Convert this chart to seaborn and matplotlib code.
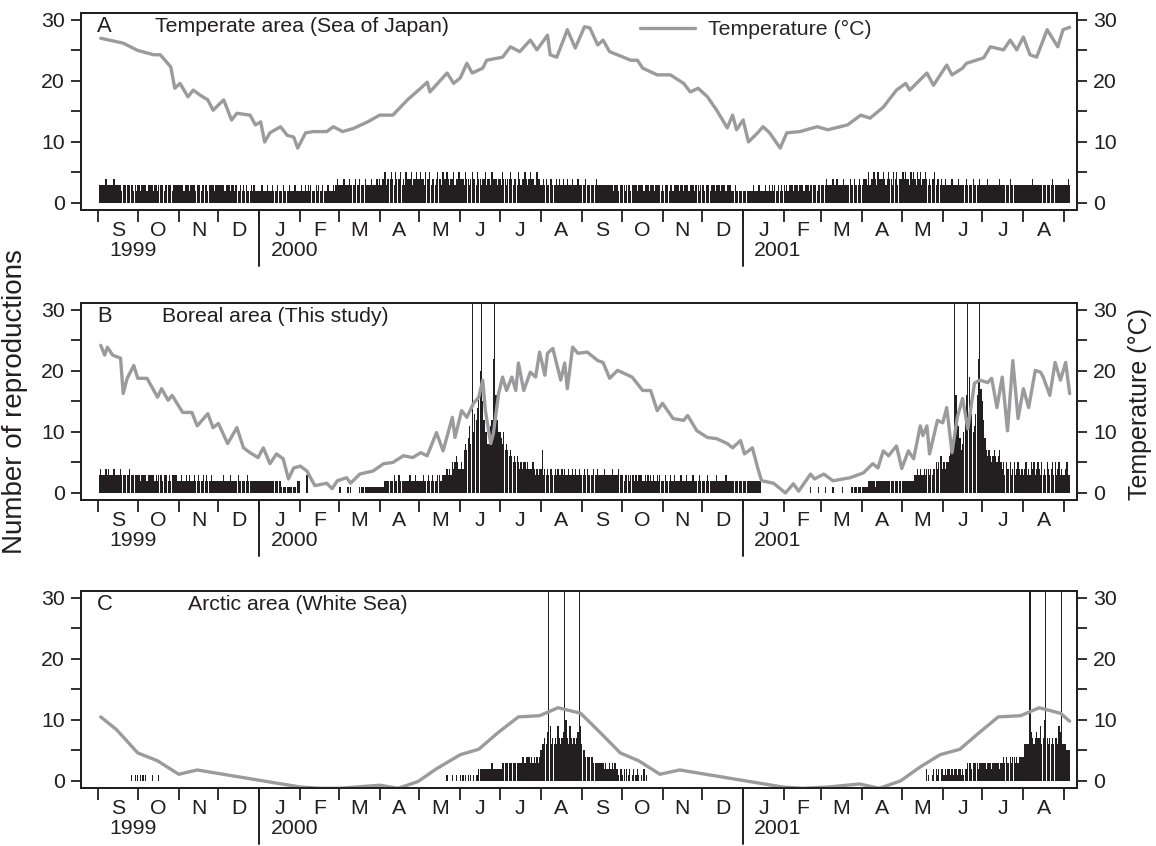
import matplotlib
matplotlib.use("Agg")
import matplotlib.pyplot as plt
import matplotlib.transforms as mtransforms
import seaborn as sns
import numpy as np
import pandas as pd

START = pd.Timestamp("1999-09-01")
month_starts = pd.date_range("1999-09-01", "2001-09-01", freq="MS")
month_letters = ["S", "O", "N", "D", "J", "F", "M", "A", "M", "J", "J", "A"] * 2
year_labels = ["1999", "2000", "2001"]
year_starts = ["1999-09-01", "2000-01-01", "2001-01-01"]

# daily number of reproductions, one string per month from Sep 1999 to Sep 2001
# (one base-36 character per day, "z" = off the scale)
repro_a = [
    "0333334333 3343333323 3333333232",
    "3323333233 3323323333 2333332333 3",
    "3333233323 3332333233 3323333233",
    "3333323332 3323322323 2322232322 2",
    "2232223222 3222322232 2223222322 2",
    "2322323232 2232322322 232223234",
    "3333433343 3334334333 4333343334 3",
    "4344534445 4354445343 5444534454",
    "4544354453 4434544354 4543445344 5",
    "4443544345 4435443445 3443544434",
    "4354434454 3443543445 4345443354 4",
    "3343433443 3343433433 4333433343 3",
    "3334333333 3433333333 3333233323",
    "3332333233 3323333233 3233323333 2",
    "3233323323 3332332333 2333233323",
    "3323332333 2333233323 3322232222 2",
    "2222222232 2232222322 3232322323 2",
    "3232333233 3233323332 33333233",
    "3333433334 3343333433 3343343334 3",
    "3444353445 4354445434 5443545344",
    "4545443545 4354534454 3434453443 4",
    "3343333433 3343333343 3334333343",
    "3333433333 3334333333 3433333333 3",
    "3333333433 3333333333 3343333333 3",
    "33343",
]
repro_b = [
    "0343334343 3343333433 3333433333",
    "3323333233 3332323332 3332323333 2",
    "2232223232 2232232223 2322232222",
    "2222322223 2222232222 2232222222 2",
    "2222222222 2222222111 1111101102 2",
    "0000030000 0000000000 000000000",
    "0100000101 0000001111 1111111111 1",
    "1111222222 2322332222 2223222322",
    "2223222322 3222332233 3434354565 4",
    "4547879b8z adcegkzfca a89bcmzgca",
    "a98a787676 5656545455 4544454343 4",
    "4734343443 3434334343 3433434334 3",
    "3343433334 3343333433 3334333343",
    "3323332333 2323332232 3232322323 2",
    "2232223223 2222322232 2223222232",
    "2222322222 2322222232 2222222222 2",
    "2222222222 2222000000 0000000000 0",
    "0000000000 0000000000 10000010",
    "0001000001 0000001000 0001111111 1",
    "1111122222 1222222222 2222222222",
    "0222222222 3343433434 4343445456 6",
    "454556778z gcb978adgz jfdabdgmzh",
    "fc97676567 6567545354 4534534543 4",
    "3453435453 4543534354 3453534534 3",
    "34533",
]
repro_c = [
    "0000000000 0000000000 0000010010",
    "1010101000 0100001000 0000000000 0",
    "0000000000 0000000000 0000000000",
    "0000000000 0000000000 0000000000 0",
    "0000000000 0000000000 0000000000 0",
    "0000000000 0000000000 000000000",
    "0000000000 0000000000 0000000000 0",
    "0000000000 0000000000 0000000000",
    "0000000000 0000000000 0100010010 0",
    "1010101010 1011222222 2222322222",
    "2233333333 3333333443 4443434343 4",
    "566768z967 67697678za 7697676 78z9",
    "6554444443 3333333232 2323232212",
    "2120212012 0121010201 0000000000 0",
    "0000000000 0000000000 0000000000",
    "0000000000 0000000000 0000000000 0",
    "0000000000 0000000000 0000000000 0",
    "0000000000 0000000000 00000000",
    "0000000000 0000000000 0000000000 0",
    "0000000000 0000000000 0000000000",
    "0000000000 0000000002 1001202120 2",
    "2121221212 2122121223 3323333233",
    "3332333233 3332334343 3434434344 4",
    "46666z8767 877967az76 7676776 98z6",
    "66555",
]

# water temperature (days after 1 Sep 1999, degrees C)
temp_a = [(2, 27.0), (19, 26.2), (30, 25.0), (42, 24.3), (47, 24.3), (55, 22.3),
          (58, 18.8), (62, 19.6), (68, 17.4), (72, 18.5), (77, 17.7), (83, 16.9),
          (87, 15.2), (95, 16.9), (101, 13.6), (105, 14.7), (115, 14.4), (119, 12.8),
          (123, 13.3), (126, 10.0), (130, 11.5), (138, 12.5), (143, 11.1), (148, 10.8),
          (151, 9.0), (157, 11.5), (163, 11.7), (173, 11.7), (178, 12.5), (185, 11.7),
          (193, 12.2), (204, 13.3), (213, 14.4), (223, 14.4), (234, 16.9), (244, 18.8),
          (249, 19.8), (251, 18.2), (264, 21.3), (269, 19.6), (274, 20.5), (279, 22.9),
          (283, 21.3), (291, 22.1), (294, 23.4), (306, 23.9), (312, 25.6), (319, 24.8),
          (327, 26.7), (332, 25.1), (340, 27.5), (342, 24.3), (347, 23.9), (355, 28.4),
          (361, 25.4), (368, 28.9), (372, 28.7), (378, 25.9), (382, 26.7), (387, 24.8),
          (403, 23.4), (408, 23.4), (412, 22.1), (423, 21.0), (433, 21.0), (443, 19.6),
          (448, 18.2), (454, 18.8), (461, 17.4), (468, 15.2), (476, 12.3), (480, 14.4),
          (483, 12.0), (488, 13.6), (492, 10.0), (499, 11.5), (503, 12.5), (508, 11.5),
          (516, 9.0), (521, 11.5), (531, 11.7), (544, 12.5), (552, 12.0), (567, 12.8),
          (577, 14.4), (584, 13.9), (594, 15.7), (604, 18.5), (611, 19.6), (614, 18.5),
          (627, 21.3), (632, 19.3), (642, 22.6), (646, 21.0), (654, 22.1), (657, 22.9),
          (670, 23.8), (675, 25.6), (685, 25.1), (690, 26.7), (695, 25.1), (700, 27.2),
          (705, 24.3), (710, 23.9), (718, 28.4), (726, 25.6), (730, 28.4), (735, 28.8)]
temp_b = [(2, 24.2), (5, 22.6), (7, 23.9), (11, 22.6), (17, 22.1), (19, 16.3),
          (22, 18.8), (27, 20.9), (30, 18.8), (37, 18.8), (45, 15.7), (48, 17.1),
          (53, 15.2), (56, 16.0), (64, 13.2), (71, 13.2), (75, 11.0), (83, 13.0),
          (87, 10.7), (91, 11.4), (98, 8.1), (105, 10.7), (110, 7.4), (115, 6.6),
          (121, 5.8), (125, 7.4), (130, 4.8), (135, 6.4), (140, 5.6), (144, 2.3),
          (148, 4.1), (153, 4.4), (158, 3.6), (164, 1.2), (173, 1.6), (177, 0.7),
          (181, 2.0), (188, 2.5), (191, 1.6), (198, 3.1), (208, 3.6), (216, 4.8),
          (223, 5.0), (231, 6.1), (238, 5.8), (244, 6.6), (249, 6.1), (256, 9.9),
          (261, 6.9), (268, 12.4), (270, 9.1), (275, 13.5), (279, 12.4), (284, 14.7),
          (288, 15.7), (291, 18.5), (293, 13.5), (297, 8.1), (299, 9.7), (303, 16.3),
          (306, 19.0), (309, 16.8), (313, 19.0), (316, 16.8), (318, 21.3), (322, 16.8),
          (327, 19.8), (331, 19.0), (334, 23.1), (338, 19.3), (340, 22.9), (344, 23.7),
          (350, 18.5), (353, 21.3), (355, 17.1), (359, 23.9), (363, 22.9), (370, 23.1),
          (378, 21.7), (382, 21.4), (387, 18.8), (393, 20.1), (404, 19.0), (412, 16.8),
          (418, 16.8), (423, 13.5), (427, 14.7), (435, 12.2), (443, 11.9), (446, 12.7),
          (453, 10.2), (461, 9.1), (468, 8.9), (476, 8.1), (480, 7.4), (486, 8.6),
          (489, 6.4), (495, 7.4), (499, 4.1), (502, 2.0), (511, 1.6), (520, 0.0),
          (526, 1.5), (530, 0.3), (539, 3.1), (542, 2.3), (549, 3.1), (556, 2.0),
          (569, 2.5), (579, 3.3), (586, 4.8), (590, 4.1), (594, 6.9), (598, 6.1),
          (604, 7.7), (608, 4.0), (613, 6.9), (617, 5.6), (622, 11.0), (624, 9.4),
          (627, 11.0), (629, 6.4), (635, 11.9), (639, 11.5), (642, 14.0), (646, 6.6),
          (650, 12.4), (654, 15.5), (658, 10.5), (663, 18.0), (667, 18.5), (673, 18.1),
          (676, 18.8), (680, 14.0), (684, 19.0), (688, 10.2), (692, 21.7), (696, 12.2),
          (700, 17.1), (704, 14.0), (709, 20.1), (713, 19.8), (715, 19.0), (720, 16.0),
          (724, 21.4), (728, 18.5), (732, 21.4), (735, 16.3)]
temp_c = [(2, 10.5), (14, 8.4), (30, 4.6), (45, 3.3), (61, 1.1), (75, 1.8),
          (153, -1.0), (168, -1.2), (183, -1.2), (213, -0.7), (227, -1.2), (242, -0.1),
          (256, 2.0), (274, 4.3), (288, 5.2), (303, 8.0), (318, 10.5), (334, 10.7),
          (348, 12.0), (365, 11.1), (380, 7.9), (395, 4.6), (409, 3.3), (425, 1.1),
          (440, 1.8), (518, -1.0), (533, -1.2), (552, -1.0), (576, -0.5), (591, -1.2),
          (607, 0.0), (622, 2.3), (637, 4.3), (652, 5.2), (667, 8.0), (681, 10.5),
          (698, 10.7), (712, 12.0), (728, 11.1), (735, 9.8)]

panel_letters = ["A", "B", "C"]
panel_titles = ["Temperate area (Sea of Japan)", "Boreal area (This study)",
                "Arctic area (White Sea)"]

BAR = "#231f20"
GREY = "#9b9b9d"
FS = 15.3

sns.set_style("ticks")
plt.rcParams["font.family"] = ["Liberation Sans", "DejaVu Sans"]
plt.rcParams["font.size"] = FS
plt.rcParams["axes.linewidth"] = 1.4


def daily(month_strings):
    days, vals = [], []
    for m0, s in zip(month_starts, month_strings):
        s = s.replace(" ", "")
        first = (m0 - START).days
        for i, ch in enumerate(s):
            days.append(first + i)
            vals.append(int(ch, 36))
    return np.array(days, dtype=float), np.array(vals, dtype=float)


month_pos = [(m - START).days for m in month_starts]
month_mid = [(a + b) / 2 for a, b in zip(month_pos[:-1], month_pos[1:])]
year_pos = [(pd.Timestamp(y) - START).days for y in year_starts]

fig = plt.figure(figsize=(11.56, 8.46), dpi=100)
rects = [[0.0701, 0.7518, 0.8616, 0.2329],
         [0.0701, 0.4090, 0.8616, 0.2329],
         [0.0701, 0.0686, 0.8616, 0.2329]]

for k, (repro, temp) in enumerate(zip([repro_a, repro_b, repro_c],
                                      [temp_a, temp_b, temp_c])):
    ax = fig.add_axes(rects[k])
    d, v = daily(repro)
    sns.barplot(x=d, y=v, ax=ax, native_scale=True, color=BAR, saturation=1,
                width=0.9, linewidth=0, errorbar=None)
    ax2 = ax.twinx()
    td, tv = zip(*temp)
    sns.lineplot(x=list(td), y=list(tv), ax=ax2, color=GREY, lw=2.4,
                 label="Temperature (°C)" if k == 0 else None)

    for a in (ax, ax2):
        a.set_ylim(-1.15, 31.15)
        a.set_yticks([0, 10, 20, 30])
        a.set_yticks([5, 15, 25], minor=True)
        a.tick_params(axis="y", which="both", direction="out", length=7.5,
                      width=1.3, pad=4, labelsize=FS, colors="#231f20")
        a.set_xlim(-12.9, 740.6)
        a.set_xlabel("")
        a.set_ylabel("")
        for sp in a.spines.values():
            sp.set_visible(True)
            sp.set_linewidth(1.4)
            sp.set_color("#231f20")
    ax2.tick_params(axis="y", which="both", left=False, right=True,
                    labelleft=False, labelright=True)

    ax.set_xticks(month_pos)
    ax.set_xticklabels([])
    ax.set_xticks(month_mid, minor=True)
    ax.set_xticklabels(month_letters, minor=True)
    ax.tick_params(axis="x", which="major", direction="out", length=8.5, width=1.3,
                   colors="#231f20")
    ax.tick_params(axis="x", which="minor", length=0, pad=8, labelsize=FS,
                   labelcolor="#231f20")
    ax2.tick_params(axis="x", which="both", bottom=False, labelbottom=False)

    trans = mtransforms.blended_transform_factory(ax.transData, ax.transAxes)
    for yp, yl in zip(year_pos, year_labels):
        if yp > 0:
            ax.plot([yp, yp], [0, -0.285], transform=trans, color="#231f20",
                    lw=1.4, clip_on=False)
        ax.annotate(yl, xy=(yp, 0), xycoords=trans, xytext=(8, -29),
                    textcoords="offset points", ha="left", va="center",
                    fontsize=FS, color="#231f20")

    ax.text(0.016, 0.929, panel_letters[k], transform=ax.transAxes,
            ha="left", va="center", fontsize=FS + 0.5, color="#231f20")
    title_x = [0.0743, 0.0813, 0.1074][k]
    ax.text(title_x, 0.929, panel_titles[k], transform=ax.transAxes,
            ha="left", va="center", fontsize=FS, color="#231f20")

    if k == 0:
        ax2.legend(loc="center left", bbox_to_anchor=(0.561, 0.915), frameon=False,
                   borderpad=0, borderaxespad=0, handlelength=2.6,
                   handletextpad=0.6, fontsize=FS)
    elif ax2.get_legend() is not None:
        ax2.get_legend().remove()

fig.text(0.013, 0.525, "Number of reproductions", rotation=90, ha="center",
         va="center", fontsize=20, color="#231f20")
fig.text(0.986, 0.522, "Temperature (°C)", rotation=90, ha="center",
         va="center", fontsize=18, color="#231f20")

fig.savefig("out.png", dpi=100)
